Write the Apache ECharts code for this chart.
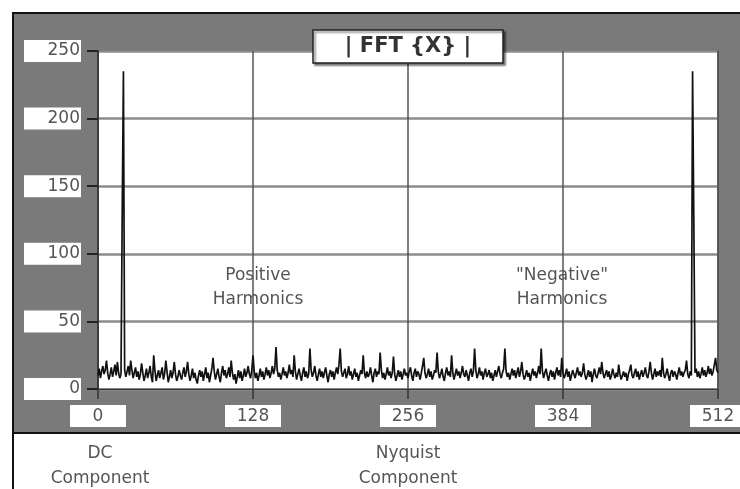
<!DOCTYPE html>
<html>
<head>
<meta charset="utf-8">
<script src="https://cdn.jsdelivr.net/npm/echarts@6/dist/echarts.min.js"></script>
<style>html,body{margin:0;padding:0;background:#fff;}#c{width:740px;height:489px;}</style>
</head>
<body>
<div id="c"></div>
<script>
// FFT magnitude |X[k]|, k = 0..512
const magnitude = [
10,15,8,13,17,11,14,21,12,7,11,16,9,13,18,10,
20,12,8,11,130,235,14,9,13,17,10,21,14,8,12,16,
9,13,7,11,19,12,6,10,15,8,12,17,9,5,25,14,
6,10,14,8,12,16,7,11,21,13,5,9,14,8,12,20,
11,6,9,14,10,7,12,16,9,13,20,11,6,10,15,8,
12,7,4,10,14,9,13,6,11,16,8,12,5,10,15,23,
13,7,11,15,9,5,12,17,10,14,8,11,16,9,21,12,
7,11,4,9,14,8,13,6,10,15,9,12,17,11,8,14,
25,13,8,12,6,10,15,9,13,7,11,16,10,14,8,12,
17,11,15,31,14,9,12,7,11,16,10,13,8,12,18,11,
14,9,25,13,7,11,15,10,6,12,16,9,13,8,11,30,
14,9,12,17,10,6,11,15,9,13,8,12,16,10,5,11,
14,9,13,7,12,16,11,18,30,13,9,12,15,8,11,17,
10,13,7,11,15,9,12,6,10,14,11,25,12,8,13,9,
11,16,10,5,12,15,9,13,11,27,14,8,12,7,11,16,
10,13,8,12,24,11,6,10,14,9,13,7,11,15,10,12,
8,13,16,10,6,12,15,9,13,11,7,12,17,23,12,8,
11,15,9,13,7,10,14,12,27,13,8,11,15,9,6,12,
16,10,13,9,25,12,7,11,15,10,13,8,12,17,11,9,
14,10,6,12,15,9,13,30,14,8,11,16,10,13,7,12,
15,9,11,14,8,12,6,10,14,9,13,17,11,8,12,15,
30,13,9,12,7,11,15,10,14,8,12,16,9,13,20,11,
7,10,14,9,12,6,11,15,10,13,8,12,17,11,30,13,
8,12,15,10,6,11,14,9,13,7,12,16,10,14,9,23,
12,8,11,15,9,13,6,10,14,11,8,12,16,10,13,9,
12,19,11,7,10,14,9,13,5,11,15,10,8,12,16,11,
20,12,8,11,14,9,13,7,10,15,11,8,12,9,18,11,
7,10,13,9,12,6,11,14,18,10,8,12,15,9,13,7,
11,14,9,12,16,10,8,13,20,12,7,11,15,9,13,10,
14,9,23,12,8,11,15,10,6,12,14,9,13,11,7,12,
16,10,13,9,12,14,21,11,8,13,10,235,128,12,15,9,
13,8,11,16,10,14,9,12,17,11,15,10,13,18,23,14,
12
];
const xTicks = [0, 128, 256, 384, 512];
const yTicks = [0, 50, 100, 150, 200, 250];
const titleText = '| FFT {X} |';
const regionLabels = ['Positive\nHarmonics', '"Negative"\nHarmonics'];
const bottomLabels = ['DC\nComponent', 'Nyquist\nComponent'];

const chart = echarts.init(document.getElementById('c'), null, {renderer: 'canvas'});
const FONT = 'DejaVu Sans';
const seriesData = magnitude.map((v, i) => [i, v]);

chart.setOption({
  animation: false,
  backgroundColor: '#fff',
  textStyle: {fontFamily: FONT},
  grid: {
    left: 98, right: 22, top: 51, bottom: 100,
    containLabel: false, outerBoundsMode: 'none',
    show: true, backgroundColor: '#fff', borderColor: '#444', borderWidth: 1.5
  },
  xAxis: {
    type: 'value', min: xTicks[0], max: xTicks[xTicks.length - 1], interval: 128,
    axisLine: {show: true, lineStyle: {color: '#333', width: 1}},
    axisTick: {show: true, length: 10, lineStyle: {color: '#333', width: 1.5}},
    splitLine: {show: true, lineStyle: {color: '#555', width: 1.5}},
    axisLabel: {
      margin: 16, color: '#555', fontSize: 17, fontFamily: FONT,
      backgroundColor: '#fff', width: 56, align: 'center', padding: [3, 0, 2, 0],
      showMinLabel: true, showMaxLabel: true
    }
  },
  yAxis: {
    type: 'value', min: yTicks[0], max: yTicks[yTicks.length - 1], interval: 50,
    axisLine: {show: true, lineStyle: {color: '#333', width: 1.5}},
    axisTick: {show: true, length: 11, lineStyle: {color: '#222', width: 2}},
    splitLine: {show: true, lineStyle: {color: '#8c8c8c', width: 2.5}},
    axisLabel: {
      margin: 17, color: '#555', fontSize: 17, fontFamily: FONT,
      backgroundColor: '#fff', width: 55, align: 'right', padding: [3, 1, 2, 1]
    }
  },
  series: [{
    type: 'line', data: seriesData, showSymbol: false, symbol: 'none',
    lineStyle: {color: '#111', width: 1.7}, z: 5
  }],
  graphic: [
    {type: 'rect', z: -100, shape: {x: 13, y: 13, width: 760, height: 520},
     style: {fill: '#fff', stroke: '#111', lineWidth: 2}},
    {type: 'rect', z: -99, shape: {x: 13, y: 13, width: 760, height: 420},
     style: {fill: '#7a7a7a', stroke: '#111', lineWidth: 2}},
    {type: 'rect', z: 100, shape: {x: 313, y: 30, width: 190, height: 33},
     style: {fill: '#fff', stroke: '#222', lineWidth: 1.5, shadowColor: 'rgba(0,0,0,0.5)', shadowOffsetX: 2, shadowOffsetY: 2, shadowBlur: 2}},
    {type: 'text', z: 101, x: 408, y: 47,
     style: {text: titleText, fill: '#333', font: 'bold 21px "' + FONT + '"', textAlign: 'center', textVerticalAlign: 'middle'}},
    {type: 'text', z: 10, x: 258, y: 288,
     style: {text: regionLabels[0], fill: '#555', font: '17px "' + FONT + '"', textAlign: 'center', textVerticalAlign: 'middle', lineHeight: 24}},
    {type: 'text', z: 10, x: 562, y: 288,
     style: {text: regionLabels[1], fill: '#555', font: '17px "' + FONT + '"', textAlign: 'center', textVerticalAlign: 'middle', lineHeight: 24}},
    {type: 'text', z: 10, x: 100, y: 466,
     style: {text: bottomLabels[0], fill: '#555', font: '17px "' + FONT + '"', textAlign: 'center', textVerticalAlign: 'middle', lineHeight: 25}},
    {type: 'text', z: 10, x: 408, y: 466,
     style: {text: bottomLabels[1], fill: '#555', font: '17px "' + FONT + '"', textAlign: 'center', textVerticalAlign: 'middle', lineHeight: 25}}
  ]
});
</script>
</body>
</html>
